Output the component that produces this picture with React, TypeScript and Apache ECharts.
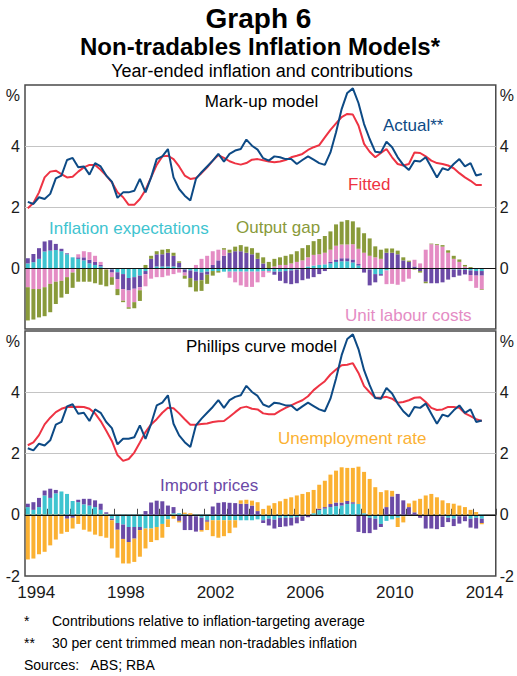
import React, { useEffect, useRef } from "react";
import * as echarts from "echarts";

const years = ["1994","1995","1996","1997","1998","1999","2000","2001","2002","2003","2004","2005","2006","2007","2008","2009","2010","2011","2012","2013","2014"];
const quarterSuffixes = ["Q1","Q2","Q3","Q4"];

const actual = [2.17,2.10,2.32,2.26, 2.43,2.94,3.03,3.54, 3.61,3.30,3.33,3.06, 3.44,3.33,3.03,2.83, 2.30,2.48,2.48,2.53, 2.92,2.48,2.97,3.57, 3.66,3.90,2.97,2.59, 2.37,2.21,2.92,3.14, 3.33,3.52,3.74,3.49, 3.74,3.85,3.90,4.21, 4.01,3.88,3.60,3.52, 3.66,3.63,3.57,3.57, 3.41,3.54,3.66,3.55, 3.44,3.38,3.79,4.45, 5.21,5.74,5.89,5.41, 4.72,4.23,3.81,3.79, 4.14,3.96,3.63,3.38, 3.21,3.52,3.49,3.63, 3.30,2.97,3.27,3.21, 3.41,3.57,3.33,3.44, 3.03,3.08];

const fittedMarkup = [1.96,2.13,2.48,2.97, 3.16,3.19,3.08,2.97, 2.99,3.16,3.30,3.38, 3.38,3.22,3.03,2.81, 2.48,2.32,2.07,2.07, 2.26,2.56,2.97,3.38, 3.66,3.68,3.57,3.33, 3.03,2.92,2.95,3.11, 3.30,3.52,3.70,3.61, 3.50,3.43,3.39,3.44, 3.55,3.57,3.53,3.49, 3.47,3.49,3.54,3.63, 3.68,3.74,3.87,3.96, 4.03,4.28,4.53,4.74, 4.95,5.05,5.03,4.67, 4.07,3.81,3.63,3.77, 3.90,3.63,3.41,3.36, 3.41,3.79,3.77,3.66, 3.52,3.44,3.41,3.36, 3.27,3.11,2.97,2.86, 2.72,2.72];

const fittedPhillips = [2.27,2.36,2.60,2.95, 3.17,3.35,3.46,3.52, 3.52,3.53,3.52,3.46, 3.31,3.06,2.74,2.41, 1.95,1.76,1.82,2.03, 2.36,2.70,2.95,3.12, 3.33,3.49,3.48,3.31, 3.12,2.94,2.94,2.96, 2.98,3.03,3.05,3.06, 3.20,3.35,3.49,3.53, 3.46,3.44,3.31,3.28, 3.28,3.39,3.49,3.57, 3.66,3.74,3.87,4.07, 4.22,4.36,4.58,4.74, 4.88,4.90,4.95,4.63, 4.20,4.00,3.82,3.82, 3.85,3.79,3.66,3.68, 3.74,3.82,3.84,3.68, 3.49,3.42,3.44,3.52, 3.52,3.49,3.31,3.22, 3.12,3.06];

// Mark-up model contributions (ppt)
const muExpectations = [0.15,0.19,0.30,0.54, 0.57,0.59,0.55,0.45, 0.35,0.30,0.25,0.15, 0.10,0.05,0.00,-0.05, -0.14,-0.20,-0.33,-0.30, -0.25,-0.10,0.00,0.05, 0.05,0.05,0.05,0.02, -0.05,-0.08,-0.12,-0.15, -0.12,-0.10,-0.10,-0.12, -0.12,-0.12,-0.12,-0.12, -0.12,-0.12,-0.10,-0.10, -0.12,-0.12,-0.10,-0.08, -0.05,0.00,0.05,0.08, 0.10,0.12,0.15,0.20, 0.22,0.22,0.18,0.08, 0.00,-0.05,-0.20,-0.20, -0.08,-0.02,0.00,0.00, 0.00,0.00,0.00,0.00, 0.00,0.00,-0.02,-0.03, -0.05,-0.05,-0.06,-0.08, -0.10,-0.10];
const muImports = [0.17,0.27,0.35,0.33, 0.34,0.20,0.08,0.03, 0.00,0.05,0.10,0.12, 0.10,0.05,0.00,-0.10, -0.22,-0.49,-0.41,-0.38, -0.38,-0.10,0.30,0.40, 0.40,0.45,0.35,0.15, -0.10,-0.25,-0.30,-0.25, -0.10,0.10,0.25,0.40, 0.50,0.55,0.55,0.50, 0.45,0.30,0.15,0.00, -0.10,-0.30,-0.40,-0.45, -0.45,-0.40,-0.35,-0.30, -0.20,-0.10,0.05,0.08, 0.10,0.10,0.10,0.05, -0.15,-0.52,-0.27,-0.05, 0.50,0.50,0.45,0.25, 0.20,0.05,-0.10,-0.45, -0.50,-0.50,-0.45,-0.35, -0.25,-0.20,-0.15,-0.15, -0.15,-0.15];
const muULC = [-0.63,-0.69,-0.69,-0.63, -0.52,-0.45,-0.42,-0.30, -0.15,0.10,0.20,0.25, 0.20,0.10,-0.05,-0.15, -0.33,-0.38,-0.55,-0.44, -0.10,-0.40,-0.35,-0.30, -0.30,-0.25,-0.20,-0.15, -0.10,0.00,0.10,0.30, 0.40,0.45,0.35,0.20, -0.20,-0.35,-0.45,-0.50, -0.50,-0.35,-0.20,-0.05, 0.05,0.10,0.10,0.15, 0.20,0.25,0.30,0.35, 0.35,0.38,0.40,0.45, 0.45,0.45,0.50,0.50, 0.50,0.40,0.35,0.30, -0.45,-0.50,-0.55,-0.45, -0.35,0.22,0.15,0.60, 0.78,0.75,0.70,0.50, 0.30,0.20,0.05,-0.20, -0.40,-0.45];
const muOutputGap = [-1.09,-1.00,-0.93,-0.95, -0.93,-0.73,-0.55,-0.55, -0.50,-0.45,-0.45,-0.45, -0.50,-0.55,-0.55,-0.25, -0.20,-0.05,-0.05,-0.20, -0.35,0.10,0.10,0.10, 0.15,0.12,0.10,0.05, -0.10,-0.30,-0.35,-0.35, -0.30,-0.15,-0.05,0.05, 0.10,0.15,0.20,0.20, 0.20,0.20,0.20,0.20, 0.25,0.25,0.30,0.30, 0.35,0.40,0.40,0.45, 0.50,0.55,0.60,0.70, 0.75,0.80,0.75,0.70, 0.64,0.57,0.36,0.30, 0.14,0.14,0.12,0.10, 0.04,-0.05,-0.05,-0.05, 0.02,0.03,0.05,0.08, 0.10,0.08,0.05,0.03, 0.00,-0.02];

// Phillips curve model contributions (ppt)
const pcExpectations = [0.25,0.16,0.25,0.63, 0.55,0.70,0.76,0.68, 0.45,0.41,0.34,0.30, 0.25,0.16,0.03,-0.13, -0.27,-0.32,-0.40,-0.40, -0.40,-0.45,-0.45,-0.40, -0.30,-0.15,0.05,0.05, 0.02,0.00,-0.05,-0.10, -0.18,-0.18,-0.18,-0.18, -0.18,-0.18,-0.18,-0.18, -0.18,-0.15,-0.18,-0.13, -0.16,-0.10,-0.10,-0.10, -0.08,-0.05,0.00,0.05, 0.15,0.20,0.25,0.28, 0.30,0.35,0.36,0.35, 0.05,-0.10,-0.13,-0.30, -0.20,-0.15,-0.10,-0.05, 0.00,0.00,0.00,0.00, 0.00,-0.02,-0.05,-0.10, -0.13,-0.05,-0.05,-0.13, -0.10,-0.13];
const pcImports = [0.11,0.25,0.30,0.16, 0.30,0.11,0.00,-0.13, -0.10,0.08,0.18,0.22, 0.22,0.20,0.05,-0.05, -0.22,-0.47,-0.49,-0.38, -0.10,0.12,0.40,0.46, 0.44,0.30,0.20,-0.20, -0.50,-0.50,-0.50,-0.40, -0.05,0.27,0.39,0.41, 0.39,0.38,0.36,0.36, 0.30,0.12,-0.09,-0.22, -0.29,-0.30,-0.28,-0.25, -0.20,-0.15,-0.08,0.00, 0.05,0.05,0.10,0.12, 0.10,0.10,0.05,-0.56, -0.60,-0.50,-0.36,-0.10, 0.25,0.60,0.68,0.47, 0.25,0.08,-0.10,-0.45, -0.45,-0.45,-0.35,-0.14, -0.24,-0.24,-0.16,-0.29, -0.35,-0.14];
const pcUnemployment = [-1.46,-1.43,-1.29,-1.21, -1.00,-0.81,-0.62,-0.43, -0.35,-0.30,-0.49,-0.55, -0.65,-0.70,-0.75,-0.92, -0.91,-0.80,-0.70,-0.76, -0.87,-0.65,-0.44,-0.43, -0.45,-0.25,-0.13,-0.05, 0.05,0.05,0.00,-0.05, -0.27,-0.52,-0.57,-0.52, -0.42,-0.24,0.11,0.13, 0.16,0.29,0.19,0.30, 0.38,0.44,0.52,0.57, 0.63,0.68,0.74,0.76, 0.78,0.86,0.96,1.04, 1.15,1.08,1.12,1.22, 1.35,1.17,0.90,0.74, 0.55,0.18,-0.30,-0.20, 0.12,0.38,0.52,0.63, 0.68,0.57,0.47,0.38, 0.36,0.30,0.25,0.16, 0.09,-0.04];

const C = {
  actual: "#0d4a85",
  fitted: "#ee3343",
  expectations: "#3fc4d0",
  outputGap: "#899a3a",
  ulc: "#e48cc4",
  imports: "#6b4aa6",
  unemployment: "#fbb132",
  border: "#4a4a4a",
  grid: "#c4c4c4",
  text: "#1a1a1a",
};
const FONT = '"Liberation Sans", Arial, Helvetica, sans-serif';

export default function App() {
  const ref = useRef<HTMLDivElement>(null);
  useEffect(() => {
    if (!ref.current) return;
    const chart = echarts.init(ref.current, undefined, { renderer: "svg" });
    const quarters: string[] = [];
    years.forEach((y) => quarterSuffixes.forEach((q) => quarters.push(y + q)));
    const nulls = quarters.map(() => null);

    const gridL = 25, gridW = 475;
    const yAxisBase = (gi: number, pos: "left" | "right", top: boolean) => ({
      type: "value", gridIndex: gi, position: pos, min: -2, max: 6, interval: 2,
      axisLine: { show: false }, axisTick: { show: false }, splitLine: { show: false },
      axisLabel: {
        fontSize: 16, color: C.text, fontFamily: FONT, margin: pos === "left" ? 5 : 4,
        formatter: (v: number) => (v === 6 ? "{p|%}" : top && v === -2 ? "" : String(v)),
        rich: { p: { fontSize: 16, color: C.text, fontFamily: FONT, padding: [20, 0, 0, 0] } },
      },
    });

    const bar = (name: string, data: number[], color: string, xi: number, yi: number, stack: string) => ({
      name, type: "bar", data, xAxisIndex: xi, yAxisIndex: yi, stack, barWidth: 4,
      itemStyle: { color }, z: 2, silent: true,
    });
    const line = (name: string, data: number[], color: string, xi: number, yi: number) => ({
      name, type: "line", data, xAxisIndex: xi, yAxisIndex: yi, symbol: "none",
      lineStyle: { color, width: 2 }, z: 5, silent: true,
    });
    const refLines = (xi: number, yi: number) => ({
      type: "line", data: nulls, xAxisIndex: xi, yAxisIndex: yi, symbol: "none", z: 3, silent: true,
      markLine: {
        silent: true, symbol: ["none", "none"], label: { show: false },
        data: [
          { yAxis: 4, lineStyle: { color: C.grid, width: 1, type: "solid" } },
          { yAxis: 2, lineStyle: { color: C.grid, width: 1, type: "solid" } },
          { yAxis: 0, lineStyle: { color: "#111", width: 1, type: "solid" } },
        ],
      },
    });

    const txt = (text: string, x: number, y: number, fill: string, size: number, align = "left", weight = "normal") => ({
      type: "text", x, y, silent: true,
      style: { text, fill, font: `${weight} ${size}px ${FONT}`, textAlign: align, textVerticalAlign: "middle" },
    });

    chart.setOption({
      animation: false,
      backgroundColor: "#ffffff",
      grid: [
        { left: gridL, width: gridW, top: 85, height: 244, show: true, borderColor: C.border, borderWidth: 1.5, backgroundColor: "transparent" },
        { left: gridL, width: gridW, top: 331, height: 245, show: true, borderColor: C.border, borderWidth: 1.5, backgroundColor: "transparent" },
      ],
      xAxis: [
        { type: "category", gridIndex: 0, data: quarters, show: false, boundaryGap: true },
        { type: "category", gridIndex: 1, data: quarters, show: false, boundaryGap: true },
        {
          type: "category", gridIndex: 1, data: years, position: "bottom", boundaryGap: true,
          axisLine: { show: true, lineStyle: { color: C.border, width: 1.5 } },
          axisTick: { show: true, inside: true, length: 6, interval: 0, lineStyle: { color: C.border, width: 1 } },
          axisLabel: { interval: 3, fontSize: 17, color: C.text, fontFamily: FONT, margin: 8 },
          splitLine: { show: false },
        },
      ],
      yAxis: [
        yAxisBase(0, "left", true),
        yAxisBase(0, "right", true),
        yAxisBase(1, "left", false),
        yAxisBase(1, "right", false),
      ],
      series: [
        bar("Inflation expectations", muExpectations, C.expectations, 0, 0, "mu"),
        bar("Import prices", muImports, C.imports, 0, 0, "mu"),
        bar("Unit labour costs", muULC, C.ulc, 0, 0, "mu"),
        bar("Output gap", muOutputGap, C.outputGap, 0, 0, "mu"),
        refLines(0, 0),
        line("Fitted", fittedMarkup, C.fitted, 0, 0),
        line("Actual**", actual, C.actual, 0, 0),
        bar("Inflation expectations (PC)", pcExpectations, C.expectations, 1, 2, "pc"),
        bar("Import prices (PC)", pcImports, C.imports, 1, 2, "pc"),
        bar("Unemployment rate", pcUnemployment, C.unemployment, 1, 2, "pc"),
        refLines(1, 2),
        line("Fitted (PC)", fittedPhillips, C.fitted, 1, 2),
        line("Actual (PC)", actual, C.actual, 1, 2),
      ],
      graphic: [
        txt("Graph 6", 258.5, 18, "#000", 28, "center", "bold"),
        txt("Non-tradables Inflation Models*", 260, 46, "#000", 24, "center", "bold"),
        txt("Year-ended inflation and contributions", 262, 71, "#000", 18, "center"),
        txt("Mark-up model", 261.5, 101, "#000", 17, "center"),
        txt("Actual**", 383, 125, C.actual, 17),
        txt("Fitted", 348, 184, C.fitted, 17),
        txt("Inflation expectations", 49, 228, C.expectations, 17),
        txt("Output gap", 236, 227, C.outputGap, 17),
        txt("Unit labour costs", 345, 315, C.ulc, 17),
        txt("Phillips curve model", 261.5, 346, "#000", 17, "center"),
        txt("Unemployment rate", 278, 438, C.unemployment, 17),
        txt("Import prices", 160, 485, C.imports, 17),
        txt("*", 24, 621, "#000", 14),
        txt("Contributions relative to inflation-targeting average", 52, 621, "#000", 14),
        txt("**", 24, 643, "#000", 14),
        txt("30 per cent trimmed mean non-tradables inflation", 52, 643, "#000", 14),
        txt("Sources:   ABS; RBA", 24, 665, "#000", 14),
      ],
    });
    return () => chart.dispose();
  }, []);
  return <div ref={ref} style={{ width: 517, height: 676, position: "absolute", left: 0, top: 0 }} />;
}
